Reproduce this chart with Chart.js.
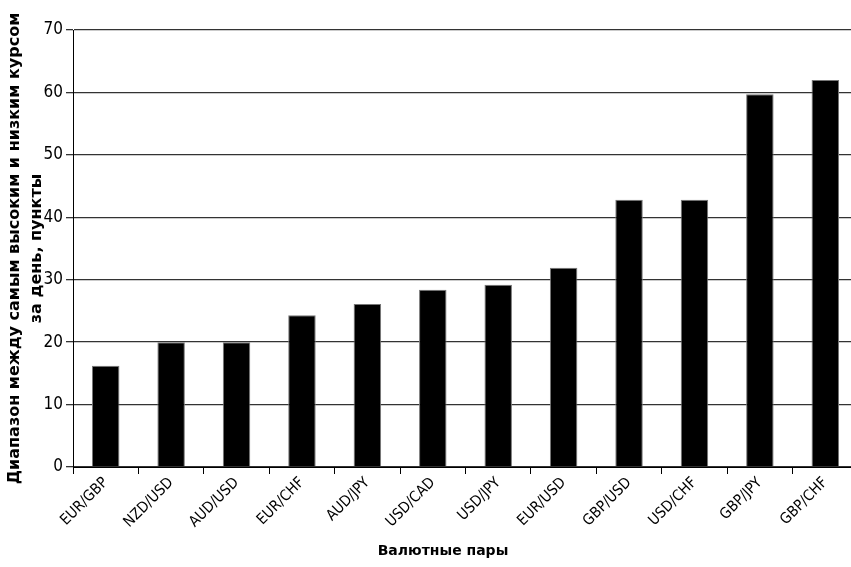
<!DOCTYPE html>
<html>
<head>
<meta charset="utf-8">
<script src="https://cdn.jsdelivr.net/npm/chart.js@4/dist/chart.umd.min.js"></script>
<style>
  html, body { margin: 0; padding: 0; background: #fff; overflow: hidden; }
  #wrap { width: 851px; height: 567px; overflow: hidden; }
  canvas { display: block; }
</style>
</head>
<body>
<div id="wrap"><canvas id="c" width="858" height="567"></canvas></div>
<script>
const categories = ["EUR/GBP", "NZD/USD", "AUD/USD", "EUR/CHF", "AUD/JPY", "USD/CAD",
                    "USD/JPY", "EUR/USD", "GBP/USD", "USD/CHF", "GBP/JPY", "GBP/CHF"];
const rangeValues = [16.2, 20, 20, 24.3, 26.1, 28.4, 29.2, 31.9, 42.8, 42.8, 59.7, 62.0];
const yTickValues = [0, 10, 20, 30, 40, 50, 60, 70];
const yTitle = ["Диапазон между самым высоким и низким курсом", "за день, пункты"];
const xTitle = "Валютные пары";

const narrow = '"DejaVu Sans", sans-serif';

const xTitlePlugin = {
  id: 'xTitlePlugin',
  afterDraw(chart) {
    const ctx = chart.ctx;
    ctx.save();
    ctx.font = 'bold 14px "DejaVu Sans", sans-serif';
    ctx.fillStyle = '#000';
    ctx.textAlign = 'center';
    ctx.textBaseline = 'middle';
    ctx.fillText(xTitle, 443, 551);
    ctx.restore();
  }
};

new Chart(document.getElementById('c'), {
  type: 'bar',
  data: {
    labels: categories,
    datasets: [{
      data: rangeValues,
      backgroundColor: '#000',
      borderColor: '#777',
      borderWidth: 1,
      borderSkipped: 'bottom',
      categoryPercentage: 1.0,
      barPercentage: 0.42
    }]
  },
  options: {
    responsive: false,
    animation: false,
    layout: { padding: { top: 30, right: 0, bottom: 0, left: 0 } },
    plugins: { legend: { display: false }, tooltip: { enabled: false } },
    scales: {
      x: {
        offset: true,
        border: { color: '#000', width: 1 },
        grid: { display: true, drawOnChartArea: false, drawTicks: true, tickLength: 7, color: '#000', offset: true },
        ticks: {
          color: '#000',
          font: { family: narrow, size: 15, weight: 'condensed' },
          minRotation: 45, maxRotation: 45,
          autoSkip: false,
          padding: 0
        },
        afterFit(scale) { scale.height = 100; }
      },
      y: {
        min: 0, max: 70,
        afterBuildTicks(scale) { scale.ticks = yTickValues.map(v => ({ value: v })); },
        border: { color: '#000', width: 1 },
        grid: { color: '#333', lineWidth: 1.3, drawTicks: true, tickLength: 7 },
        ticks: {
          color: '#000',
          font: { family: narrow, size: 17, weight: 'condensed' },
          padding: 3
        },
        title: {
          display: true,
          text: yTitle,
          color: '#000',
          font: { family: '"DejaVu Sans", sans-serif', size: 16, weight: 'bold', lineHeight: '22px' },
          padding: { top: 4, bottom: 0 }
        },
        afterFit(scale) { scale.width = 73; }
      }
    }
  },
  plugins: [xTitlePlugin]
});
</script>
</body>
</html>
